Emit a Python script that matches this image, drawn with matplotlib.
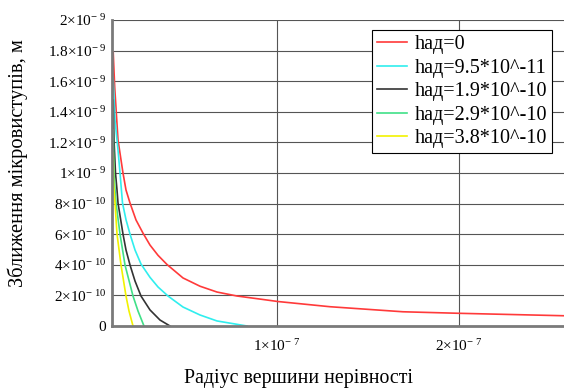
import matplotlib
matplotlib.use("Agg")
import matplotlib.pyplot as plt

plt.rcParams['font.family'] = ['Liberation Serif', 'DejaVu Serif']
plt.rcParams['mathtext.fontset'] = 'custom'
plt.rcParams['mathtext.rm'] = 'Liberation Serif'
plt.rcParams['mathtext.it'] = 'Liberation Serif:italic'

# --- data ---
r_h0 = [1.0e-8, 1.082e-8, 1.264e-8, 1.538e-8, 1.703e-8, 1.923e-8, 2.253e-8, 2.637e-8,
        3.022e-8, 3.462e-8, 3.956e-8, 4.835e-8, 5.769e-8, 6.703e-8, 7.802e-8,
        9.066e-8, 1.005e-7, 1.291e-7, 1.692e-7, 2.0e-7, 2.577e-7]
y_h0 = [1.791e-9, 1.562e-9, 1.216e-9, 1.0e-9, 0.889e-9, 0.804e-9, 0.693e-9, 0.607e-9,
        0.529e-9, 0.462e-9, 0.402e-9, 0.314e-9, 0.260e-9, 0.222e-9, 0.196e-9,
        0.176e-9, 0.160e-9, 0.126e-9, 0.093e-9, 0.083e-9, 0.067e-9]

r_h1 = [1.0e-8, 1.099e-8, 1.264e-8, 1.374e-8, 1.511e-8, 1.703e-8, 1.923e-8, 2.198e-8,
        2.527e-8, 3.022e-8, 3.462e-8, 4.011e-8, 4.835e-8, 5.769e-8, 6.703e-8, 8.352e-8]
y_h1 = [1.621e-9, 1.346e-9, 1.150e-9, 1.0e-9, 0.804e-9, 0.695e-9, 0.601e-9, 0.497e-9,
        0.405e-9, 0.318e-9, 0.255e-9, 0.196e-9, 0.124e-9, 0.072e-9, 0.033e-9, 0.0]

r_h2 = [1.0e-8, 1.044e-8, 1.126e-8, 1.209e-8, 1.264e-8, 1.538e-8, 1.703e-8, 1.923e-8,
        2.198e-8, 2.527e-8, 3.022e-8, 3.571e-8, 4.121e-8]
y_h2 = [1.477e-9, 1.216e-9, 1.0e-9, 0.889e-9, 0.804e-9, 0.601e-9, 0.497e-9, 0.399e-9,
        0.294e-9, 0.196e-9, 0.105e-9, 0.039e-9, 0.0]

r_h3 = [1.0e-8, 1.044e-8, 1.099e-8, 1.154e-8, 1.374e-8, 1.648e-8, 2.088e-8, 2.363e-8,
        2.692e-8]
y_h3 = [1.281e-9, 1.0e-9, 0.889e-9, 0.804e-9, 0.601e-9, 0.399e-9, 0.196e-9, 0.098e-9,
        0.0]

r_h4 = [1.0e-8, 1.016e-8, 1.044e-8, 1.099e-8, 1.209e-8, 1.429e-8, 1.703e-8, 1.868e-8,
        2.088e-8]
y_h4 = [1.131e-9, 0.954e-9, 0.889e-9, 0.804e-9, 0.601e-9, 0.399e-9, 0.196e-9, 0.098e-9,
        0.0]

series_labels = ['hад=0', 'hад=9.5*10^-11', 'hад=1.9*10^-10',
                 'hад=2.9*10^-10', 'hад=3.8*10^-10']
series_colors = ['#ff3a3a', '#30eeee', '#333333', '#40e088', '#f2f200']

yticks = [0, 2e-10, 4e-10, 6e-10, 8e-10, 1e-9, 1.2e-9, 1.4e-9, 1.6e-9, 1.8e-9, 2e-9]
ytick_labels = ['0', r'$2{\times}10^{-\ 10}$', r'$4{\times}10^{-\ 10}$',
                r'$6{\times}10^{-\ 10}$', r'$8{\times}10^{-\ 10}$',
                r'$1{\times}10^{-\ 9}$', r'$1.2{\times}10^{-\ 9}$',
                r'$1.4{\times}10^{-\ 9}$', r'$1.6{\times}10^{-\ 9}$',
                r'$1.8{\times}10^{-\ 9}$', r'$2{\times}10^{-\ 9}$']
xticks = [1e-7, 2e-7]
xtick_labels = [r'$1{\times}10^{-\ 7}$', r'$2{\times}10^{-\ 7}$']

fig = plt.figure(figsize=(5.64, 3.91), dpi=100)
ax = fig.add_axes([112/564, 1-326/391, 1-112/564, (326-20)/391])

series = [(r_h0, y_h0), (r_h1, y_h1), (r_h2, y_h2), (r_h3, y_h3), (r_h4, y_h4)]
for (rx, ry), lab, col in zip(series, series_labels, series_colors):
    ax.plot(rx, ry, color=col, lw=1.2, label=lab, solid_joinstyle='round')

ax.set_xlim(0.934e-8, 2.577e-7)
ax.set_ylim(0, 2e-9)
ax.set_yticks(yticks)
ax.set_yticklabels(ytick_labels, fontsize=11)
ax.set_xticks(xticks)
ax.set_xticklabels(xtick_labels, fontsize=11)
ax.tick_params(length=0, pad=4)
ax.tick_params(axis='x', pad=9)
ax.grid(True, color='#555555', lw=0.8)
ax.set_axisbelow(True)
for s in ['top', 'right']:
    ax.spines[s].set_visible(False)
for s in ['left', 'bottom']:
    ax.spines[s].set_color('#7a7a7a')
    ax.spines[s].set_linewidth(2)

leg = ax.legend(loc='upper left', bbox_to_anchor=((372-112)/452, (326-30)/306),
                fontsize=14.5, frameon=True, fancybox=False, handlelength=1.5,
                handletextpad=0.35, borderpad=0.25, labelspacing=0.22, borderaxespad=0)
leg.get_frame().set_edgecolor('black')
leg.get_frame().set_linewidth(0.8)
leg.get_frame().set_alpha(1)

fig.text(18/564, 1-163/391, 'Зближення мікровиступів, м', rotation=90,
         ha='center', va='center', fontsize=14.8)
fig.text(298/564, 1-379/391, 'Радіус вершини нерівності', ha='center',
         va='center', fontsize=14.3)

fig.savefig('out.png', dpi=100)
